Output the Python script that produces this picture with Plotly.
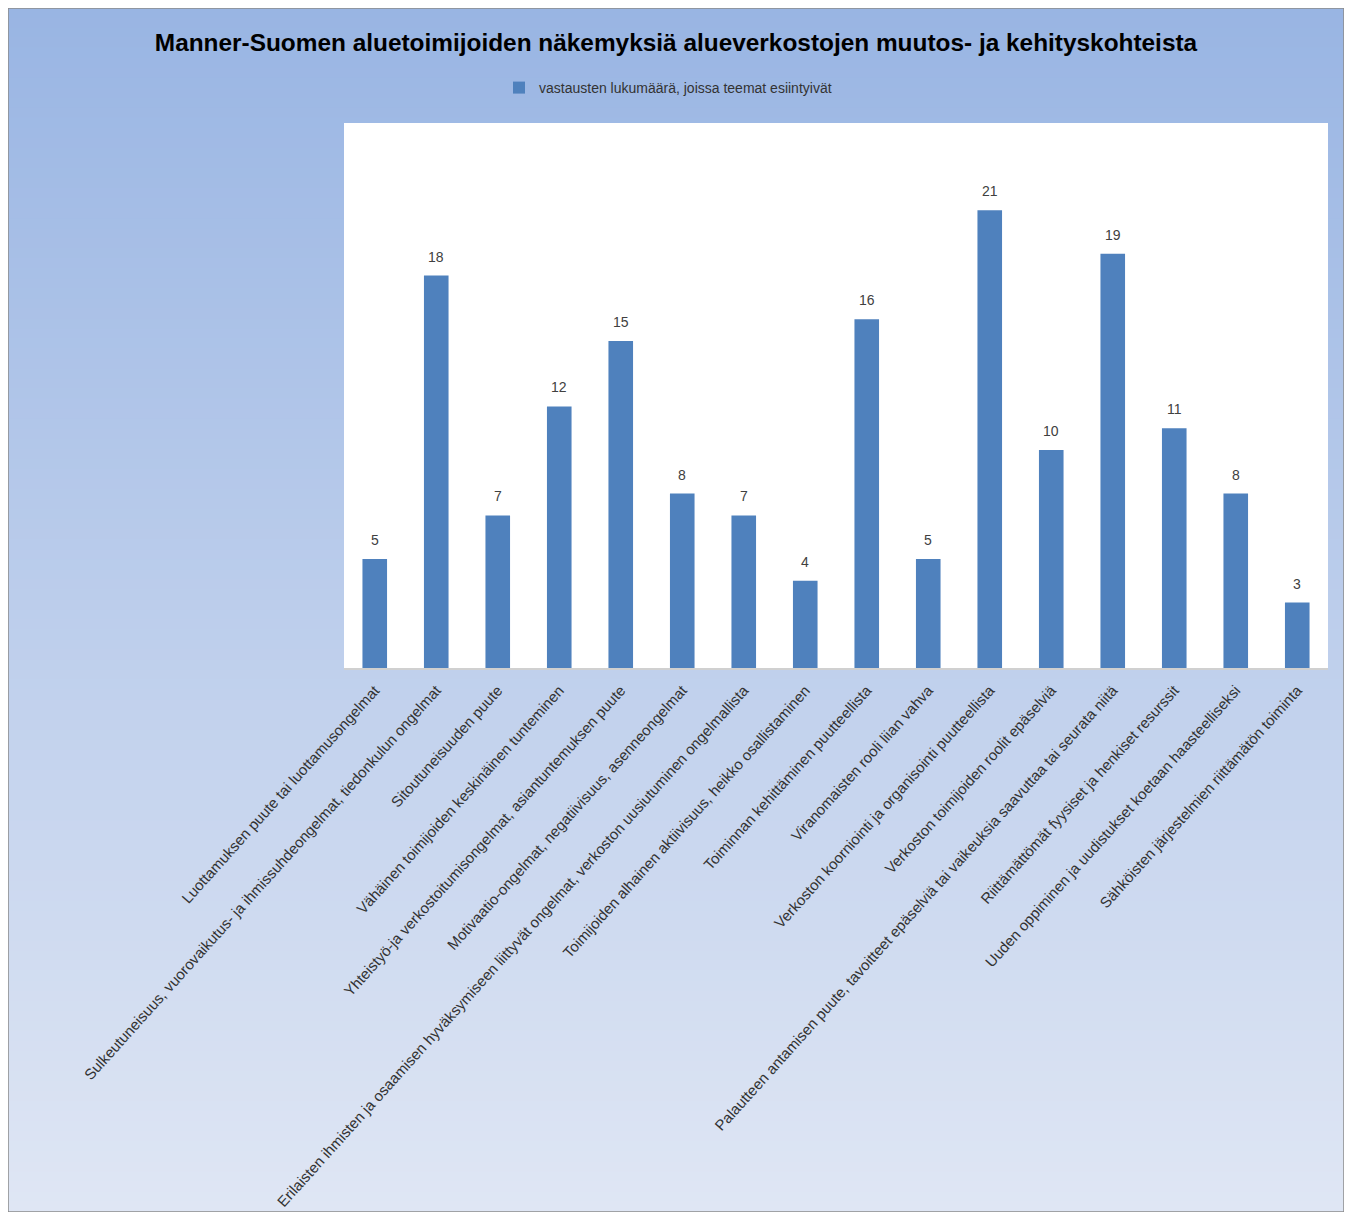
import plotly.graph_objects as go

categories = [
    "Luottamuksen puute tai luottamusongelmat",
    "Sulkeutuneisuus, vuorovaikutus- ja ihmissuhdeongelmat, tiedonkulun ongelmat",
    "Sitoutuneisuuden puute",
    "Vähäinen toimijoiden keskinäinen tunteminen",
    "Yhteistyö-ja verkostoitumisongelmat, asiantuntemuksen puute",
    "Motivaatio-ongelmat, negatiivisuus, asenneongelmat",
    "Erilaisten ihmisten ja osaamisen hyväksymiseen liittyvät ongelmat, verkoston uusiutuminen ongelmallista",
    "Toimijoiden alhainen aktiivisuus, heikko osallistaminen",
    "Toiminnan kehittäminen puutteellista",
    "Viranomaisten rooli liian vahva",
    "Verkoston koorniointi ja organisointi puutteellista",
    "Verkoston toimijoiden roolit epäselviä",
    "Palautteen antamisen puute, tavoitteet epäselviä tai vaikeuksia saavuttaa tai seurata niitä",
    "Riittämättömät fyysiset ja henkiset resurssit",
    "Uuden oppiminen ja uudistukset koetaan haasteelliseksi",
    "Sähköisten järjestelmien riittämätön toiminta",
]
values = [5, 18, 7, 12, 15, 8, 7, 4, 16, 5, 21, 10, 19, 11, 8, 3]
series_name = "vastausten lukumäärä, joissa teemat esiintyivät"
title_text = "Manner-Suomen aluetoimijoiden näkemyksiä alueverkostojen muutos- ja kehityskohteista"

FIG_W, FIG_H = 1336, 1204
ML, MR, MT, MB = 336, 16, 115, 544
PW = FIG_W - ML - MR
PH = FIG_H - MT - MB

fig = go.Figure()
fig.add_trace(go.Bar(
    x=categories, y=values, name=series_name,
    marker=dict(color="#4f81bd", line=dict(width=0)),
    showlegend=True, cliponaxis=False,
))

# value labels above bars
annotations = []
for c, v in zip(categories, values):
    annotations.append(dict(x=c, y=v, xref="x", yref="y", text=str(v), showarrow=False,
                            yshift=19, font=dict(size=14, color="#404040", family="Arial")))

# background gradient (bands) in paper coordinates
x_left = -ML / PW
x_right = 1 + MR / PW
y_bot = -MB / PH
y_top = 1 + MT / PH
top_rgb = (153, 181, 227)
bot_rgb = (223, 230, 244)
shapes = []
N = 120
for i in range(N):
    t = i / (N - 1)
    col = tuple(round(top_rgb[k] + (bot_rgb[k] - top_rgb[k]) * t) for k in range(3))
    y1 = y_top - (y_top - y_bot) * i / N
    y0 = y_top - (y_top - y_bot) * (i + 1) / N
    shapes.append(dict(type="rect", xref="paper", yref="paper", layer="below",
                       x0=x_left, x1=x_right, y0=y0 - 0.001, y1=y1 + 0.001,
                       fillcolor="rgb(%d,%d,%d)" % col, line=dict(width=0)))
# white plot area
shapes.append(dict(type="rect", xref="paper", yref="paper", layer="below",
                   x0=0, x1=1, y0=0, y1=1, fillcolor="white", line=dict(width=0)))
# outer border
shapes.append(dict(type="rect", xref="paper", yref="paper", layer="above",
                   x0=x_left, x1=x_right, y0=y_bot, y1=y_top,
                   fillcolor="rgba(0,0,0,0)", line=dict(width=1.5, color="#8c8c8c")))

fig.update_layout(
    width=FIG_W, height=FIG_H,
    margin=dict(l=ML, r=MR, t=MT, b=MB, pad=0),
    paper_bgcolor="white", plot_bgcolor="white",
    shapes=shapes,
    annotations=annotations,
    bargap=0.6,
    title=dict(text="<b>" + title_text + "</b>", x=0.5, xref="container", xanchor="center",
               y=1 - 34 / FIG_H, yref="container", yanchor="middle",
               font=dict(size=24.4, color="black", family="Arial")),
    legend=dict(orientation="h", x=(499 - 8) / FIG_W, xref="container", xanchor="left",
                y=1 - 80 / FIG_H, yref="container", yanchor="middle",
                bgcolor="rgba(0,0,0,0)", itemwidth=30,
                font=dict(size=14, color="#333333", family="Arial")),
    xaxis=dict(tickangle=-48, showline=True, linecolor="#d0d0d0", linewidth=1.5,
               ticks="", showgrid=False, automargin=False, ticklabelstandoff=6,
               tickfont=dict(size=15, color="#333333", family="Arial")),
    yaxis=dict(visible=False, range=[0, 25], showgrid=False, zeroline=False),
    font=dict(family="Arial"),
)

fig.write_html("out.html")
